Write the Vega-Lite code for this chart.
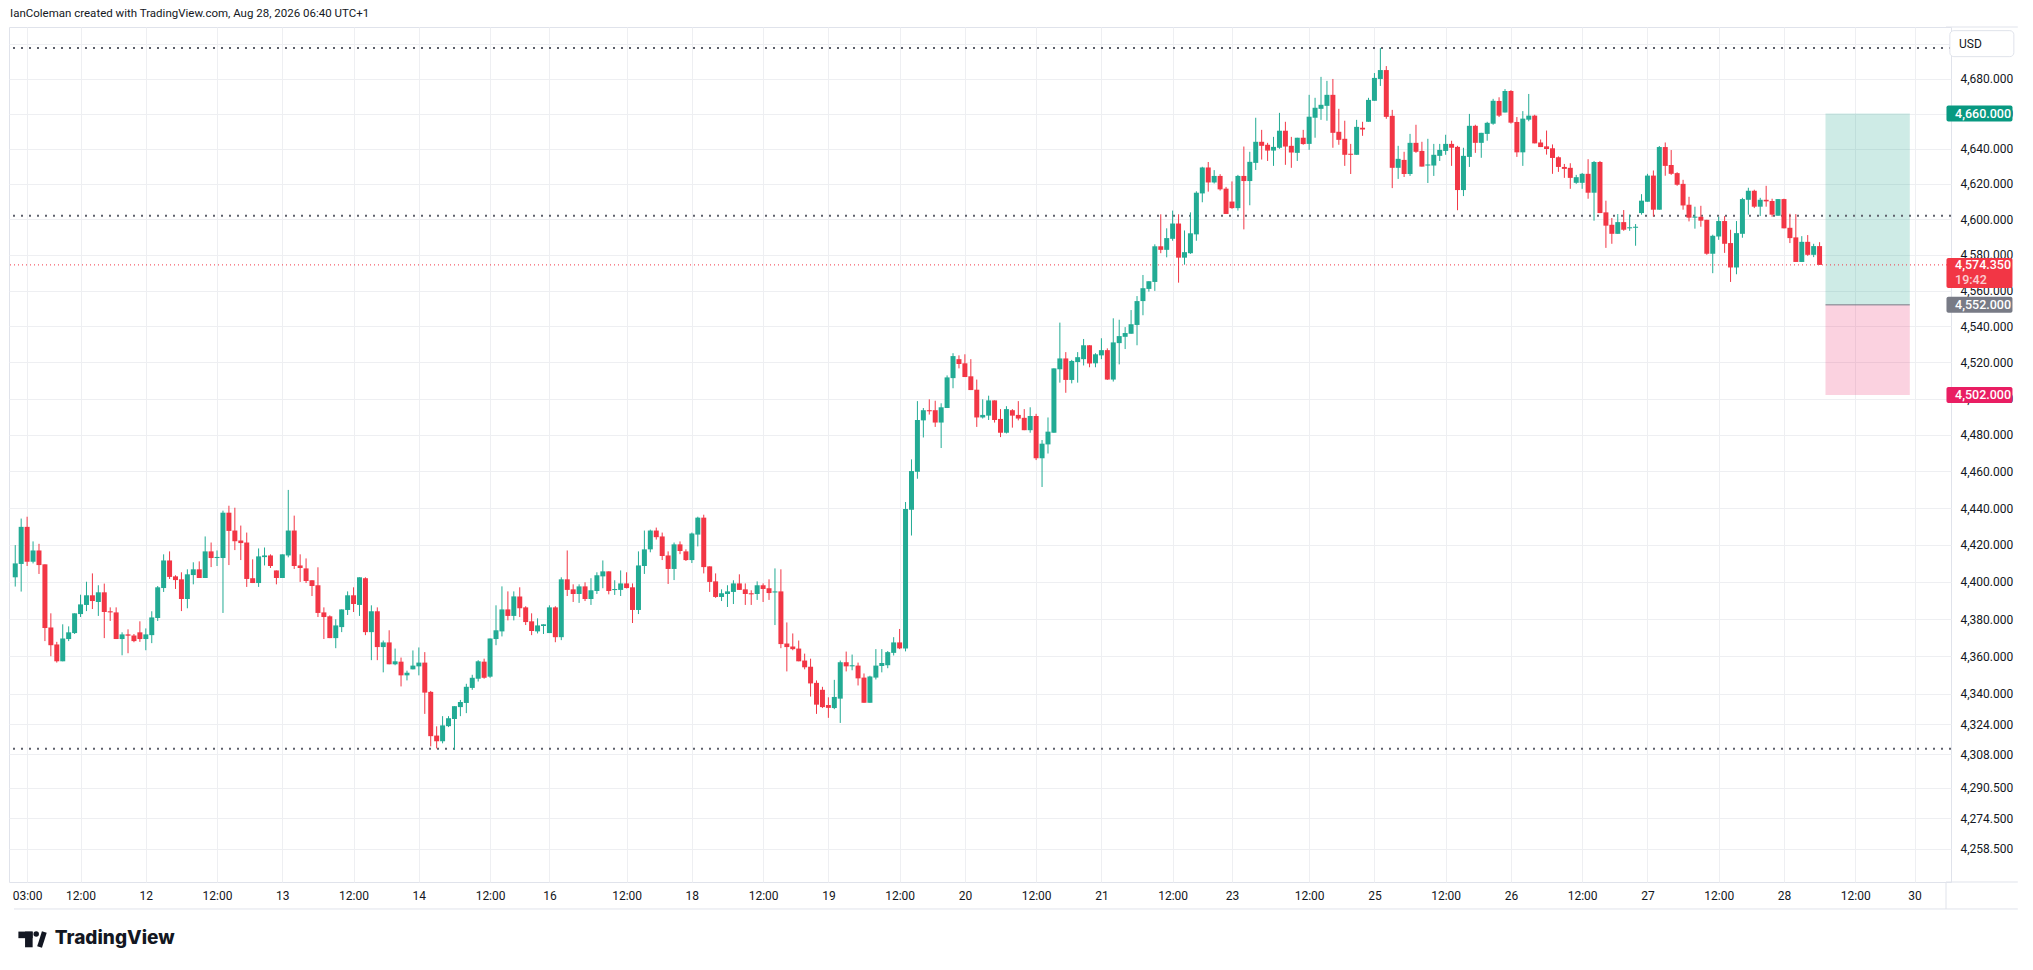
{
  "$schema": "https://vega.github.io/schema/vega-lite/v6.json",
  "width": 1942,
  "height": 855,
  "autosize": {"type": "none"},
  "padding": {"left": 9, "top": 27, "right": 82, "bottom": 88},
  "background": "white",
  "title": {
    "text": "IanColeman created with TradingView.com, Aug 28, 2026 06:40 UTC+1",
    "anchor": "start",
    "frame": "group",
    "baseline": "middle",
    "offset": 13,
    "dx": 1,
    "dy": 12,
    "font": "Roboto",
    "fontSize": 11.5,
    "fontWeight": "normal",
    "color": "#131722"
  },
  "config": {
    "view": {"stroke": "#e0e3eb", "strokeWidth": 1},
    "font": "Roboto",
    "axis": {
      "domain": false,
      "ticks": false,
      "tickSize": 0,
      "gridColor": "#eeeff2",
      "gridWidth": 1,
      "labelFont": "Roboto",
      "labelFontSize": 12,
      "labelColor": "#131722",
      "labelOverlap": false,
      "labelBound": false,
      "labelFlush": false
    }
  },
  "datasets": {
    "box": [
      {"kind": "target", "from": 283, "to": 297.2, "lo": 4552, "hi": 4660},
      {"kind": "stop", "from": 283, "to": 297.2, "lo": 4502, "hi": 4552}
    ],
    "levels": [{"p": 4697.6}, {"p": 4602}, {"p": 4311}],
    "badges": [
      {"kind": "target", "p": 4660},
      {"kind": "stop", "p": 4502},
      {"kind": "entry", "p": 4552},
      {"kind": "last", "p": 4574.35, "timer": "19:42"}
    ],
    "candles": [
      {"k":-22,"o":4402.5,"h":4419.9,"l":4397.5,"c":4410.0},
      {"k":-21,"o":4409.7,"h":4434.3,"l":4394.8,"c":4429.8},
      {"k":-20,"o":4429.8,"h":4435.3,"l":4408.6,"c":4410.9},
      {"k":-19,"o":4410.9,"h":4421.9,"l":4410.0,"c":4417.0},
      {"k":-18,"o":4417.0,"h":4420.6,"l":4404.3,"c":4409.1},
      {"k":-17,"o":4409.5,"h":4409.5,"l":4368.2,"c":4375.2},
      {"k":-16,"o":4375.5,"h":4383.1,"l":4360.1,"c":4366.0},
      {"k":-15,"o":4366.4,"h":4367.8,"l":4356.7,"c":4357.4},
      {"k":-14,"o":4357.4,"h":4377.2,"l":4357.4,"c":4369.6},
      {"k":-13,"o":4369.3,"h":4376.1,"l":4368.2,"c":4372.9},
      {"k":-12,"o":4372.5,"h":4383.1,"l":4372.0,"c":4383.1},
      {"k":-11,"o":4382.7,"h":4393.1,"l":4381.1,"c":4387.9},
      {"k":-10,"o":4387.6,"h":4400.1,"l":4384.3,"c":4392.8},
      {"k":-9,"o":4392.8,"h":4404.6,"l":4385.4,"c":4389.7},
      {"k":-8,"o":4389.2,"h":4398.2,"l":4381.7,"c":4394.4},
      {"k":-7,"o":4394.4,"h":4399.1,"l":4369.8,"c":4383.8},
      {"k":-6,"o":4384.2,"h":4386.3,"l":4379.0,"c":4383.6},
      {"k":-5,"o":4383.6,"h":4386.3,"l":4369.3,"c":4369.3},
      {"k":-4,"o":4369.3,"h":4372.9,"l":4360.6,"c":4371.8},
      {"k":-3,"o":4371.8,"h":4374.5,"l":4361.7,"c":4371.1},
      {"k":-2,"o":4371.2,"h":4372.0,"l":4367.6,"c":4368.2},
      {"k":-1,"o":4372.9,"h":4378.8,"l":4367.8,"c":4369.3},
      {"k":0,"o":4369.3,"h":4375.0,"l":4363.3,"c":4371.8},
      {"k":1,"o":4371.4,"h":4384.2,"l":4367.1,"c":4380.9},
      {"k":2,"o":4380.6,"h":4397.8,"l":4379.0,"c":4397.1},
      {"k":3,"o":4396.7,"h":4414.9,"l":4394.6,"c":4411.6},
      {"k":4,"o":4411.6,"h":4416.5,"l":4401.6,"c":4402.7},
      {"k":5,"o":4403.0,"h":4403.6,"l":4396.2,"c":4401.0},
      {"k":6,"o":4401.4,"h":4405.2,"l":4384.3,"c":4390.8},
      {"k":7,"o":4390.8,"h":4406.8,"l":4385.8,"c":4404.1},
      {"k":8,"o":4403.7,"h":4410.6,"l":4398.7,"c":4406.8},
      {"k":9,"o":4406.8,"h":4411.1,"l":4402.1,"c":4402.1},
      {"k":10,"o":4402.1,"h":4424.6,"l":4402.1,"c":4416.5},
      {"k":11,"o":4416.5,"h":4421.3,"l":4408.0,"c":4412.9},
      {"k":12,"o":4412.9,"h":4417.0,"l":4408.6,"c":4413.5},
      {"k":13,"o":4412.9,"h":4438.6,"l":4383.3,"c":4437.5},
      {"k":14,"o":4437.5,"h":4441.3,"l":4409.1,"c":4427.6},
      {"k":15,"o":4427.8,"h":4440.2,"l":4417.2,"c":4422.0},
      {"k":16,"o":4422.4,"h":4430.5,"l":4411.8,"c":4421.0},
      {"k":17,"o":4421.3,"h":4426.7,"l":4397.3,"c":4401.6},
      {"k":18,"o":4402.0,"h":4412.2,"l":4399.4,"c":4399.4},
      {"k":19,"o":4399.4,"h":4418.1,"l":4397.3,"c":4413.8},
      {"k":20,"o":4413.4,"h":4418.6,"l":4408.9,"c":4414.3},
      {"k":21,"o":4414.3,"h":4414.9,"l":4407.5,"c":4408.6},
      {"k":22,"o":4406.2,"h":4406.2,"l":4398.7,"c":4402.1},
      {"k":23,"o":4402.1,"h":4414.9,"l":4402.1,"c":4414.9},
      {"k":24,"o":4414.3,"h":4449.9,"l":4413.3,"c":4427.8},
      {"k":25,"o":4427.8,"h":4435.9,"l":4407.0,"c":4408.6},
      {"k":26,"o":4408.9,"h":4414.9,"l":4400.0,"c":4407.5},
      {"k":27,"o":4407.3,"h":4412.7,"l":4399.4,"c":4400.5},
      {"k":28,"o":4400.9,"h":4400.9,"l":4392.4,"c":4397.8},
      {"k":29,"o":4398.2,"h":4407.9,"l":4381.1,"c":4383.3},
      {"k":30,"o":4383.6,"h":4386.3,"l":4369.3,"c":4381.1},
      {"k":31,"o":4381.5,"h":4382.0,"l":4369.8,"c":4369.8},
      {"k":32,"o":4369.8,"h":4379.9,"l":4364.4,"c":4376.6},
      {"k":33,"o":4375.7,"h":4385.2,"l":4373.0,"c":4385.2},
      {"k":34,"o":4384.9,"h":4394.9,"l":4382.2,"c":4392.8},
      {"k":35,"o":4392.8,"h":4397.1,"l":4383.8,"c":4388.1},
      {"k":36,"o":4387.6,"h":4402.5,"l":4381.7,"c":4402.5},
      {"k":37,"o":4402.0,"h":4402.5,"l":4371.4,"c":4373.0},
      {"k":38,"o":4373.0,"h":4387.4,"l":4358.0,"c":4384.2},
      {"k":39,"o":4384.2,"h":4386.3,"l":4358.0,"c":4365.0},
      {"k":40,"o":4365.0,"h":4368.5,"l":4351.5,"c":4367.5},
      {"k":41,"o":4367.5,"h":4374.0,"l":4355.8,"c":4355.8},
      {"k":42,"o":4355.8,"h":4364.2,"l":4355.3,"c":4357.4},
      {"k":43,"o":4357.2,"h":4359.4,"l":4344.0,"c":4349.9},
      {"k":44,"o":4349.9,"h":4352.4,"l":4347.2,"c":4351.3},
      {"k":45,"o":4353.1,"h":4363.2,"l":4353.1,"c":4355.1},
      {"k":46,"o":4354.7,"h":4364.8,"l":4349.9,"c":4356.7},
      {"k":47,"o":4356.7,"h":4362.3,"l":4329.4,"c":4340.7},
      {"k":48,"o":4341.1,"h":4341.6,"l":4312.2,"c":4317.6},
      {"k":49,"o":4317.9,"h":4322.8,"l":4311.1,"c":4314.9},
      {"k":50,"o":4314.9,"h":4328.2,"l":4313.8,"c":4323.3},
      {"k":51,"o":4322.9,"h":4328.2,"l":4322.4,"c":4327.1},
      {"k":52,"o":4326.7,"h":4333.5,"l":4310.4,"c":4333.5},
      {"k":53,"o":4333.0,"h":4336.8,"l":4328.2,"c":4335.7},
      {"k":54,"o":4335.2,"h":4345.4,"l":4329.8,"c":4343.8},
      {"k":55,"o":4343.2,"h":4350.2,"l":4342.2,"c":4348.6},
      {"k":56,"o":4348.1,"h":4358.0,"l":4346.6,"c":4357.4},
      {"k":57,"o":4357.2,"h":4358.8,"l":4348.1,"c":4348.6},
      {"k":58,"o":4349.2,"h":4369.6,"l":4348.6,"c":4369.6},
      {"k":59,"o":4369.3,"h":4387.4,"l":4366.0,"c":4374.0},
      {"k":60,"o":4373.4,"h":4397.6,"l":4370.7,"c":4385.2},
      {"k":61,"o":4385.2,"h":4394.9,"l":4379.3,"c":4381.7},
      {"k":62,"o":4381.7,"h":4394.9,"l":4379.3,"c":4392.2},
      {"k":63,"o":4392.2,"h":4397.1,"l":4381.1,"c":4385.8},
      {"k":64,"o":4386.3,"h":4386.9,"l":4376.8,"c":4378.4},
      {"k":65,"o":4378.8,"h":4383.1,"l":4371.4,"c":4373.6},
      {"k":66,"o":4373.4,"h":4380.4,"l":4372.3,"c":4376.6},
      {"k":67,"o":4376.3,"h":4377.2,"l":4372.0,"c":4377.2},
      {"k":68,"o":4372.5,"h":4387.4,"l":4372.5,"c":4386.3},
      {"k":69,"o":4386.3,"h":4386.9,"l":4367.6,"c":4370.3},
      {"k":70,"o":4370.3,"h":4402.5,"l":4368.7,"c":4401.4},
      {"k":71,"o":4401.4,"h":4417.0,"l":4392.4,"c":4395.7},
      {"k":72,"o":4396.0,"h":4398.7,"l":4389.2,"c":4393.5},
      {"k":73,"o":4393.5,"h":4398.7,"l":4388.7,"c":4397.6},
      {"k":74,"o":4397.6,"h":4399.8,"l":4389.7,"c":4390.8},
      {"k":75,"o":4390.8,"h":4402.0,"l":4387.6,"c":4395.5},
      {"k":76,"o":4395.1,"h":4405.2,"l":4393.5,"c":4403.6},
      {"k":77,"o":4403.0,"h":4411.6,"l":4396.6,"c":4405.7},
      {"k":78,"o":4405.7,"h":4405.7,"l":4393.3,"c":4395.1},
      {"k":79,"o":4395.6,"h":4400.9,"l":4393.0,"c":4396.2},
      {"k":80,"o":4395.7,"h":4406.2,"l":4392.4,"c":4399.2},
      {"k":81,"o":4399.2,"h":4405.2,"l":4396.5,"c":4396.7},
      {"k":82,"o":4397.1,"h":4399.2,"l":4377.9,"c":4384.9},
      {"k":83,"o":4384.9,"h":4416.5,"l":4382.7,"c":4408.9},
      {"k":84,"o":4408.6,"h":4427.8,"l":4404.3,"c":4417.6},
      {"k":85,"o":4417.6,"h":4428.3,"l":4416.0,"c":4427.8},
      {"k":86,"o":4427.8,"h":4429.4,"l":4422.9,"c":4424.2},
      {"k":87,"o":4424.6,"h":4426.7,"l":4411.8,"c":4414.0},
      {"k":88,"o":4414.3,"h":4416.5,"l":4398.9,"c":4407.0},
      {"k":89,"o":4407.0,"h":4421.3,"l":4401.0,"c":4420.3},
      {"k":90,"o":4420.3,"h":4421.9,"l":4415.0,"c":4416.7},
      {"k":91,"o":4416.5,"h":4417.6,"l":4411.3,"c":4411.8},
      {"k":92,"o":4411.8,"h":4426.7,"l":4410.2,"c":4426.2},
      {"k":93,"o":4425.6,"h":4435.3,"l":4419.2,"c":4434.8},
      {"k":94,"o":4434.8,"h":4436.4,"l":4404.6,"c":4408.0},
      {"k":95,"o":4408.4,"h":4408.4,"l":4394.6,"c":4400.0},
      {"k":96,"o":4400.3,"h":4404.6,"l":4391.4,"c":4391.9},
      {"k":97,"o":4391.9,"h":4396.0,"l":4389.7,"c":4393.9},
      {"k":98,"o":4393.5,"h":4398.2,"l":4386.5,"c":4394.9},
      {"k":99,"o":4394.6,"h":4400.9,"l":4388.1,"c":4399.2},
      {"k":100,"o":4399.2,"h":4404.1,"l":4395.7,"c":4395.7},
      {"k":101,"o":4396.0,"h":4399.2,"l":4387.6,"c":4393.5},
      {"k":102,"o":4393.9,"h":4395.5,"l":4387.6,"c":4393.3},
      {"k":103,"o":4393.5,"h":4400.3,"l":4390.3,"c":4398.2},
      {"k":104,"o":4398.2,"h":4399.2,"l":4389.2,"c":4396.2},
      {"k":105,"o":4396.6,"h":4401.4,"l":4390.3,"c":4394.0},
      {"k":106,"o":4394.3,"h":4407.3,"l":4376.8,"c":4394.9},
      {"k":107,"o":4394.9,"h":4406.8,"l":4364.4,"c":4366.6},
      {"k":108,"o":4366.9,"h":4378.2,"l":4352.0,"c":4365.0},
      {"k":109,"o":4365.3,"h":4372.3,"l":4363.3,"c":4363.9},
      {"k":110,"o":4364.2,"h":4368.5,"l":4357.4,"c":4357.4},
      {"k":111,"o":4357.8,"h":4361.5,"l":4353.1,"c":4354.2},
      {"k":112,"o":4354.5,"h":4358.8,"l":4338.6,"c":4345.6},
      {"k":113,"o":4345.9,"h":4347.2,"l":4329.4,"c":4334.3},
      {"k":114,"o":4342.2,"h":4343.8,"l":4332.5,"c":4333.0},
      {"k":115,"o":4334.1,"h":4338.2,"l":4327.3,"c":4332.6},
      {"k":116,"o":4332.5,"h":4347.5,"l":4331.9,"c":4338.4},
      {"k":117,"o":4337.5,"h":4357.8,"l":4324.6,"c":4356.9},
      {"k":118,"o":4356.9,"h":4362.6,"l":4352.0,"c":4354.7},
      {"k":119,"o":4354.7,"h":4361.0,"l":4352.6,"c":4355.3},
      {"k":120,"o":4355.1,"h":4356.7,"l":4344.5,"c":4348.3},
      {"k":121,"o":4348.7,"h":4350.9,"l":4335.3,"c":4335.3},
      {"k":122,"o":4335.3,"h":4349.7,"l":4335.3,"c":4349.3},
      {"k":123,"o":4348.7,"h":4363.9,"l":4347.7,"c":4355.1},
      {"k":124,"o":4354.9,"h":4363.9,"l":4351.5,"c":4356.5},
      {"k":125,"o":4355.3,"h":4362.9,"l":4353.7,"c":4362.3},
      {"k":126,"o":4361.9,"h":4370.3,"l":4360.5,"c":4367.5},
      {"k":127,"o":4367.5,"h":4374.7,"l":4363.9,"c":4364.3},
      {"k":128,"o":4364.3,"h":4443.3,"l":4362.7,"c":4439.5},
      {"k":129,"o":4439.1,"h":4466.6,"l":4425.1,"c":4460.2},
      {"k":130,"o":4459.8,"h":4498.6,"l":4456.0,"c":4488.2},
      {"k":131,"o":4488.0,"h":4494.8,"l":4478.6,"c":4493.6},
      {"k":132,"o":4493.6,"h":4499.6,"l":4491.2,"c":4493.0},
      {"k":133,"o":4493.6,"h":4498.8,"l":4484.4,"c":4486.8},
      {"k":134,"o":4486.8,"h":4497.4,"l":4472.8,"c":4495.2},
      {"k":135,"o":4494.8,"h":4512.8,"l":4494.8,"c":4511.7},
      {"k":136,"o":4511.3,"h":4525.1,"l":4505.7,"c":4523.5},
      {"k":137,"o":4521.8,"h":4523.9,"l":4516.7,"c":4519.1},
      {"k":138,"o":4519.5,"h":4524.5,"l":4511.9,"c":4511.9},
      {"k":139,"o":4512.3,"h":4521.8,"l":4504.7,"c":4504.7},
      {"k":140,"o":4504.9,"h":4510.5,"l":4484.4,"c":4489.6},
      {"k":141,"o":4489.6,"h":4499.6,"l":4489.0,"c":4491.0},
      {"k":142,"o":4490.6,"h":4501.6,"l":4488.2,"c":4499.0},
      {"k":143,"o":4499.0,"h":4499.0,"l":4486.8,"c":4488.2},
      {"k":144,"o":4488.8,"h":4494.2,"l":4478.8,"c":4481.2},
      {"k":145,"o":4481.2,"h":4495.8,"l":4480.8,"c":4494.2},
      {"k":146,"o":4493.6,"h":4494.2,"l":4484.0,"c":4490.6},
      {"k":147,"o":4491.0,"h":4498.6,"l":4488.0,"c":4489.0},
      {"k":148,"o":4489.4,"h":4494.2,"l":4482.6,"c":4482.6},
      {"k":149,"o":4482.6,"h":4495.2,"l":4481.2,"c":4490.4},
      {"k":150,"o":4490.4,"h":4491.6,"l":4466.2,"c":4467.2},
      {"k":151,"o":4467.2,"h":4477.2,"l":4451.5,"c":4475.2},
      {"k":152,"o":4474.8,"h":4489.6,"l":4469.8,"c":4481.8},
      {"k":153,"o":4481.2,"h":4516.7,"l":4481.2,"c":4516.7},
      {"k":154,"o":4516.2,"h":4542.1,"l":4508.8,"c":4522.2},
      {"k":155,"o":4522.2,"h":4525.7,"l":4503.2,"c":4510.3},
      {"k":156,"o":4510.3,"h":4521.4,"l":4508.4,"c":4520.8},
      {"k":157,"o":4520.2,"h":4525.7,"l":4508.8,"c":4522.9},
      {"k":158,"o":4521.8,"h":4533.0,"l":4518.3,"c":4529.5},
      {"k":159,"o":4529.5,"h":4529.5,"l":4517.3,"c":4519.4},
      {"k":160,"o":4519.5,"h":4525.1,"l":4517.3,"c":4524.5},
      {"k":161,"o":4523.9,"h":4533.4,"l":4521.8,"c":4526.8},
      {"k":162,"o":4526.8,"h":4527.8,"l":4510.3,"c":4510.5},
      {"k":163,"o":4510.5,"h":4544.5,"l":4509.4,"c":4531.1},
      {"k":164,"o":4530.7,"h":4543.7,"l":4518.9,"c":4534.6},
      {"k":165,"o":4534.2,"h":4539.6,"l":4527.4,"c":4536.3},
      {"k":166,"o":4535.9,"h":4549.1,"l":4535.9,"c":4541.2},
      {"k":167,"o":4540.8,"h":4556.9,"l":4529.5,"c":4554.1},
      {"k":168,"o":4554.1,"h":4568.7,"l":4546.2,"c":4561.3},
      {"k":169,"o":4560.9,"h":4565.2,"l":4559.4,"c":4565.2},
      {"k":170,"o":4564.8,"h":4585.9,"l":4559.8,"c":4584.8},
      {"k":171,"o":4584.8,"h":4602.8,"l":4580.9,"c":4582.8},
      {"k":172,"o":4582.8,"h":4594.9,"l":4578.6,"c":4589.4},
      {"k":173,"o":4589.0,"h":4604.9,"l":4587.9,"c":4597.6},
      {"k":174,"o":4597.6,"h":4602.8,"l":4564.4,"c":4578.4},
      {"k":175,"o":4578.4,"h":4593.7,"l":4574.5,"c":4581.5},
      {"k":176,"o":4580.9,"h":4603.9,"l":4580.5,"c":4592.1},
      {"k":177,"o":4591.5,"h":4615.8,"l":4587.9,"c":4615.0},
      {"k":178,"o":4614.6,"h":4629.7,"l":4609.6,"c":4629.3},
      {"k":179,"o":4629.3,"h":4632.4,"l":4615.6,"c":4620.8},
      {"k":180,"o":4620.8,"h":4627.8,"l":4620.2,"c":4624.5},
      {"k":181,"o":4624.5,"h":4625.5,"l":4616.2,"c":4616.9},
      {"k":182,"o":4617.3,"h":4618.3,"l":4603.0,"c":4603.0},
      {"k":183,"o":4610.0,"h":4621.4,"l":4605.9,"c":4606.3},
      {"k":184,"o":4606.3,"h":4625.1,"l":4604.9,"c":4624.5},
      {"k":185,"o":4624.5,"h":4641.2,"l":4594.3,"c":4621.6},
      {"k":186,"o":4621.6,"h":4638.2,"l":4607.9,"c":4632.5},
      {"k":187,"o":4631.9,"h":4657.6,"l":4627.9,"c":4643.9},
      {"k":188,"o":4643.9,"h":4650.7,"l":4633.8,"c":4641.6},
      {"k":189,"o":4642.2,"h":4643.3,"l":4633.0,"c":4638.9},
      {"k":190,"o":4638.9,"h":4646.7,"l":4630.2,"c":4641.0},
      {"k":191,"o":4640.5,"h":4660.4,"l":4639.9,"c":4650.2},
      {"k":192,"o":4650.2,"h":4655.3,"l":4630.8,"c":4641.2},
      {"k":193,"o":4641.6,"h":4646.7,"l":4629.1,"c":4637.8},
      {"k":194,"o":4637.6,"h":4646.2,"l":4633.0,"c":4646.2},
      {"k":195,"o":4646.2,"h":4650.7,"l":4642.2,"c":4642.6},
      {"k":196,"o":4642.7,"h":4670.7,"l":4639.3,"c":4658.2},
      {"k":197,"o":4657.6,"h":4669.0,"l":4646.2,"c":4663.3},
      {"k":198,"o":4662.7,"h":4681.0,"l":4656.4,"c":4665.0},
      {"k":199,"o":4664.4,"h":4678.7,"l":4655.9,"c":4670.7},
      {"k":200,"o":4670.7,"h":4679.8,"l":4640.5,"c":4649.0},
      {"k":201,"o":4649.6,"h":4662.7,"l":4642.2,"c":4645.0},
      {"k":202,"o":4645.6,"h":4655.9,"l":4630.2,"c":4636.5},
      {"k":203,"o":4637.1,"h":4642.7,"l":4625.6,"c":4636.5},
      {"k":204,"o":4636.5,"h":4656.4,"l":4636.5,"c":4652.4},
      {"k":205,"o":4651.9,"h":4655.3,"l":4647.3,"c":4650.9},
      {"k":206,"o":4655.3,"h":4669.0,"l":4655.3,"c":4667.8},
      {"k":207,"o":4667.3,"h":4683.2,"l":4667.3,"c":4680.4},
      {"k":208,"o":4679.8,"h":4697.5,"l":4675.8,"c":4684.9},
      {"k":209,"o":4684.9,"h":4687.2,"l":4657.0,"c":4658.1},
      {"k":210,"o":4658.7,"h":4662.1,"l":4617.6,"c":4629.1},
      {"k":211,"o":4629.1,"h":4641.6,"l":4622.8,"c":4634.2},
      {"k":212,"o":4633.6,"h":4638.2,"l":4623.9,"c":4625.6},
      {"k":213,"o":4625.6,"h":4648.4,"l":4624.5,"c":4643.3},
      {"k":214,"o":4643.3,"h":4653.6,"l":4637.6,"c":4638.2},
      {"k":215,"o":4638.7,"h":4643.9,"l":4629.8,"c":4629.8},
      {"k":216,"o":4630.4,"h":4645.6,"l":4620.5,"c":4631.0},
      {"k":217,"o":4630.4,"h":4642.7,"l":4624.5,"c":4636.5},
      {"k":218,"o":4635.9,"h":4642.7,"l":4633.0,"c":4639.3},
      {"k":219,"o":4638.7,"h":4647.9,"l":4636.5,"c":4642.7},
      {"k":220,"o":4642.7,"h":4644.5,"l":4630.2,"c":4640.5},
      {"k":221,"o":4641.0,"h":4641.6,"l":4605.1,"c":4616.5},
      {"k":222,"o":4616.5,"h":4640.5,"l":4613.1,"c":4635.9},
      {"k":223,"o":4635.3,"h":4659.8,"l":4629.6,"c":4653.0},
      {"k":224,"o":4653.0,"h":4653.6,"l":4637.6,"c":4643.3},
      {"k":225,"o":4643.3,"h":4649.0,"l":4634.8,"c":4649.0},
      {"k":226,"o":4648.4,"h":4655.3,"l":4644.5,"c":4654.7},
      {"k":227,"o":4654.2,"h":4668.4,"l":4653.6,"c":4667.3},
      {"k":228,"o":4667.2,"h":4669.3,"l":4658.0,"c":4658.8},
      {"k":229,"o":4660.6,"h":4674.0,"l":4660.6,"c":4672.9},
      {"k":230,"o":4672.9,"h":4673.4,"l":4654.3,"c":4654.8},
      {"k":231,"o":4655.2,"h":4658.0,"l":4635.3,"c":4637.9},
      {"k":232,"o":4637.9,"h":4661.4,"l":4630.2,"c":4657.1},
      {"k":233,"o":4656.5,"h":4671.2,"l":4655.6,"c":4658.8},
      {"k":234,"o":4658.8,"h":4659.3,"l":4643.0,"c":4643.0},
      {"k":235,"o":4643.5,"h":4645.2,"l":4640.9,"c":4640.9},
      {"k":236,"o":4641.3,"h":4650.3,"l":4636.6,"c":4639.8},
      {"k":237,"o":4640.2,"h":4642.4,"l":4625.7,"c":4634.7},
      {"k":238,"o":4635.1,"h":4635.6,"l":4626.8,"c":4629.6},
      {"k":239,"o":4629.6,"h":4631.3,"l":4623.4,"c":4628.5},
      {"k":240,"o":4629.1,"h":4631.7,"l":4617.2,"c":4623.4},
      {"k":241,"o":4620.6,"h":4625.1,"l":4620.0,"c":4623.8},
      {"k":242,"o":4620.6,"h":4626.2,"l":4617.2,"c":4625.7},
      {"k":243,"o":4625.7,"h":4634.0,"l":4611.6,"c":4615.0},
      {"k":244,"o":4615.0,"h":4633.0,"l":4599.2,"c":4632.4},
      {"k":245,"o":4632.4,"h":4633.0,"l":4603.5,"c":4603.5},
      {"k":246,"o":4603.9,"h":4610.5,"l":4583.9,"c":4596.4},
      {"k":247,"o":4596.9,"h":4600.7,"l":4586.2,"c":4591.8},
      {"k":248,"o":4591.8,"h":4602.9,"l":4591.8,"c":4598.4},
      {"k":249,"o":4598.4,"h":4605.2,"l":4593.5,"c":4594.1},
      {"k":250,"o":4594.9,"h":4602.6,"l":4593.5,"c":4595.5},
      {"k":251,"o":4595.2,"h":4597.3,"l":4585.1,"c":4595.8},
      {"k":252,"o":4603.5,"h":4614.2,"l":4602.6,"c":4610.5},
      {"k":253,"o":4609.9,"h":4625.7,"l":4609.9,"c":4624.7},
      {"k":254,"o":4624.7,"h":4627.6,"l":4601.6,"c":4605.4},
      {"k":255,"o":4605.4,"h":4641.5,"l":4605.4,"c":4640.9},
      {"k":256,"o":4640.9,"h":4643.5,"l":4624.6,"c":4630.2},
      {"k":257,"o":4630.7,"h":4639.2,"l":4625.1,"c":4625.7},
      {"k":258,"o":4626.1,"h":4626.6,"l":4618.9,"c":4619.5},
      {"k":259,"o":4620.0,"h":4622.3,"l":4605.4,"c":4607.8},
      {"k":260,"o":4608.2,"h":4612.7,"l":4598.8,"c":4600.9},
      {"k":261,"o":4600.9,"h":4607.1,"l":4594.7,"c":4601.5},
      {"k":262,"o":4601.4,"h":4607.6,"l":4595.8,"c":4599.2},
      {"k":263,"o":4599.7,"h":4599.7,"l":4580.0,"c":4580.6},
      {"k":264,"o":4580.6,"h":4591.3,"l":4569.7,"c":4590.7},
      {"k":265,"o":4590.3,"h":4601.4,"l":4588.4,"c":4599.0},
      {"k":266,"o":4599.0,"h":4601.8,"l":4581.1,"c":4586.2},
      {"k":267,"o":4586.6,"h":4594.1,"l":4564.8,"c":4572.9},
      {"k":268,"o":4572.9,"h":4599.0,"l":4569.1,"c":4592.2},
      {"k":269,"o":4591.8,"h":4612.1,"l":4589.6,"c":4611.4},
      {"k":270,"o":4611.0,"h":4617.8,"l":4602.6,"c":4616.1},
      {"k":271,"o":4616.1,"h":4616.7,"l":4606.3,"c":4607.1},
      {"k":272,"o":4607.1,"h":4612.1,"l":4601.8,"c":4611.0},
      {"k":273,"o":4611.0,"h":4618.9,"l":4607.1,"c":4610.1},
      {"k":274,"o":4610.3,"h":4611.6,"l":4601.4,"c":4602.6},
      {"k":275,"o":4602.0,"h":4611.4,"l":4602.0,"c":4611.4},
      {"k":276,"o":4611.4,"h":4611.6,"l":4594.9,"c":4594.9},
      {"k":277,"o":4595.2,"h":4603.1,"l":4586.6,"c":4589.4},
      {"k":278,"o":4589.8,"h":4602.9,"l":4576.0,"c":4576.0},
      {"k":279,"o":4576.0,"h":4590.5,"l":4576.0,"c":4587.3},
      {"k":280,"o":4587.3,"h":4591.1,"l":4579.4,"c":4580.0},
      {"k":281,"o":4580.0,"h":4586.2,"l":4578.7,"c":4584.9},
      {"k":282,"o":4584.9,"h":4587.1,"l":4574.35,"c":4574.35}
    ]
  },
  "layer": [
    {
      "data": {"name": "box"},
      "mark": {"type": "rect", "opacity": 0.2},
      "encoding": {
        "x": {
          "field": "from", "type": "quantitative", "title": null,
          "scale": {"type": "linear", "domain": [-22.21, 303.3], "nice": false, "zero": false},
          "axis": {
            "grid": true,
            "values": [-20, -11, 0, 12, 23, 35, 46, 58, 68, 81, 92, 104, 115, 127, 138, 150, 161, 173, 183, 196, 207, 219, 230, 242, 253, 265, 276, 288, 298],
            "labelExpr": "['03:00','12:00','12','12:00','13','12:00','14','12:00','16','12:00','18','12:00','19','12:00','20','12:00','21','12:00','23','12:00','25','12:00','26','12:00','27','12:00','28','12:00','30'][indexof([-20,-11,0,12,23,35,46,58,68,81,92,104,115,127,138,150,161,173,183,196,207,219,230,242,253,265,276,288,298], datum.value)]",
            "labelBaseline": "middle",
            "labelPadding": 13
          }
        },
        "x2": {"field": "to"},
        "y": {
          "field": "lo", "type": "quantitative", "title": null,
          "scale": {"type": "log", "domain": [4241.1, 4709.7], "nice": false},
          "axis": {
            "orient": "right",
            "grid": true,
            "values": [4258.5, 4274.5, 4290.5, 4308, 4324, 4340, 4360, 4380, 4400, 4420, 4440, 4460, 4480, 4500, 4520, 4540, 4560, 4580, 4600, 4620, 4640, 4660, 4680, 4700],
            "format": ",.3f",
            "labelAlign": "left",
            "labelBaseline": "middle",
            "labelPadding": 9
          }
        },
        "y2": {"field": "hi"},
        "color": {
          "field": "kind", "type": "nominal", "legend": null,
          "scale": {"domain": ["target", "stop", "entry", "last"], "range": ["#089981", "#e91e63", "#787b86", "#f23645"]}
        }
      }
    },
    {
      "data": {"name": "box"},
      "transform": [{"filter": "datum.kind == 'stop'"}],
      "mark": {"type": "rule", "color": "#787b86", "strokeWidth": 1},
      "encoding": {
        "x": {"field": "from", "type": "quantitative", "title": null},
        "x2": {"field": "to"},
        "y": {"field": "hi", "type": "quantitative", "title": null}
      }
    },
    {
      "data": {"name": "levels"},
      "mark": {"type": "rule", "color": "#5d606b", "strokeWidth": 2, "strokeDash": [2, 6]},
      "encoding": {
        "y": {"field": "p", "type": "quantitative", "title": null}
      }
    },
    {
      "data": {"name": "badges"},
      "transform": [{"filter": "datum.kind == 'last'"}],
      "mark": {"type": "rule", "color": "#f23645", "strokeWidth": 1, "strokeDash": [1, 3]},
      "encoding": {
        "y": {"field": "p", "type": "quantitative", "title": null}
      }
    },
    {
      "data": {"name": "candles"},
      "mark": {"type": "rule", "strokeWidth": 1, "clip": true},
      "encoding": {
        "x": {"field": "k", "type": "quantitative", "title": null},
        "y": {"field": "l", "type": "quantitative", "title": null},
        "y2": {"field": "h"},
        "color": {"condition": {"test": "datum.c >= datum.o", "value": "#22ab94"}, "value": "#f23645"}
      }
    },
    {
      "data": {"name": "candles"},
      "mark": {"type": "bar", "size": 5, "clip": true},
      "encoding": {
        "x": {"field": "k", "type": "quantitative", "title": null},
        "y": {"field": "o", "type": "quantitative", "title": null},
        "y2": {"field": "c"},
        "color": {"condition": {"test": "datum.c >= datum.o", "value": "#22ab94"}, "value": "#f23645"}
      }
    },
    {
      "data": {"values": [{}]},
      "mark": {"type": "rule", "color": "#e0e3eb", "strokeWidth": 1},
      "encoding": {
        "x": {"datum": -22.21},
        "x2": {"datum": 315.4},
        "y": {"datum": 4227.1}
      }
    },
    {
      "data": {"values": [{}]},
      "mark": {"type": "rule", "color": "#e0e3eb", "strokeWidth": 1},
      "encoding": {
        "x": {"datum": 303.3},
        "y": {"datum": 4241.1},
        "y2": {"datum": 4227.1}
      }
    },
    {
      "data": {"values": [{}]},
      "mark": {"type": "rule", "color": "#e0e3eb", "strokeWidth": 1},
      "encoding": {
        "x": {"datum": 303.3},
        "x2": {"datum": 315.4},
        "y": {"datum": 4709.7}
      }
    },
    {
      "data": {"values": [{}]},
      "mark": {"type": "rule", "color": "#e0e3eb", "strokeWidth": 1},
      "encoding": {
        "x": {"datum": 303.3},
        "x2": {"datum": 315.4},
        "y": {"datum": 4241.1}
      }
    },
    {
      "data": {"name": "badges"},
      "transform": [{"filter": "datum.kind != 'last'"}],
      "mark": {"type": "tick", "orient": "horizontal", "size": 66, "thickness": 16, "cornerRadius": 2, "opacity": 1},
      "encoding": {
        "x": {"datum": 308.94},
        "y": {"field": "p", "type": "quantitative", "title": null},
        "color": {
          "field": "kind", "type": "nominal", "legend": null,
          "scale": {"domain": ["target", "stop", "entry", "last"], "range": ["#089981", "#e91e63", "#787b86", "#f23645"]}
        }
      }
    },
    {
      "data": {"name": "badges"},
      "transform": [{"filter": "datum.kind == 'last'"}],
      "mark": {"type": "tick", "orient": "horizontal", "size": 66, "thickness": 30, "yOffset": 8, "cornerRadius": 2, "opacity": 1},
      "encoding": {
        "x": {"datum": 308.94},
        "y": {"field": "p", "type": "quantitative", "title": null},
        "color": {
          "field": "kind", "type": "nominal", "legend": null,
          "scale": {"domain": ["target", "stop", "entry", "last"], "range": ["#089981", "#e91e63", "#787b86", "#f23645"]}
        }
      }
    },
    {
      "data": {"name": "badges"},
      "mark": {"type": "text", "align": "left", "baseline": "middle", "font": "Roboto", "fontSize": 12.5, "fontWeight": 500, "color": "white"},
      "encoding": {
        "x": {"datum": 304.82},
        "y": {"field": "p", "type": "quantitative", "title": null},
        "text": {"field": "p", "type": "quantitative", "format": ",.3f"}
      }
    },
    {
      "data": {"name": "badges"},
      "transform": [{"filter": "datum.kind == 'last'"}],
      "mark": {"type": "text", "align": "left", "baseline": "middle", "font": "Roboto", "fontSize": 12.5, "fontWeight": 500, "dy": 15, "color": "white", "opacity": 0.75},
      "encoding": {
        "x": {"datum": 304.82},
        "y": {"field": "p", "type": "quantitative", "title": null},
        "text": {"field": "timer"}
      }
    },
    {
      "data": {"values": [{"label": "USD"}]},
      "mark": {"type": "tick", "orient": "horizontal", "size": 64, "thickness": 26, "cornerRadius": 4, "fill": "white", "stroke": "#e0e3eb", "strokeWidth": 1, "opacity": 1},
      "encoding": {
        "x": {"datum": 309.34},
        "y": {"datum": 4700.1}
      }
    },
    {
      "data": {"values": [{"label": "USD"}]},
      "mark": {"type": "text", "align": "left", "baseline": "middle", "font": "Roboto", "fontSize": 12, "color": "#131722"},
      "encoding": {
        "x": {"datum": 305.5},
        "y": {"datum": 4700.1},
        "text": {"field": "label"}
      }
    },
    {
      "data": {"values": [{}]},
      "mark": {"type": "rect", "color": "#131722"},
      "encoding": {
        "x": {"datum": -21.47},
        "x2": {"datum": -19.07},
        "y": {"datum": 4215.4},
        "y2": {"datum": 4212.0}
      }
    },
    {
      "data": {"values": [{}]},
      "mark": {"type": "rect", "color": "#131722"},
      "encoding": {
        "x": {"datum": -20.35},
        "x2": {"datum": -19.07},
        "y": {"datum": 4215.4},
        "y2": {"datum": 4207.3}
      }
    },
    {
      "data": {"values": [{}]},
      "mark": {"type": "point", "shape": "circle", "filled": true, "size": 30, "color": "#131722", "opacity": 1},
      "encoding": {
        "x": {"datum": -18.47},
        "y": {"datum": 4214.2}
      }
    },
    {
      "data": {"values": [{}]},
      "mark": {"type": "rule", "color": "#131722", "strokeWidth": 5},
      "encoding": {
        "x": {"datum": -17.1},
        "y": {"datum": 4215.2},
        "x2": {"datum": -17.9},
        "y2": {"datum": 4207.4}
      }
    },
    {
      "data": {"values": [{"label": "TradingView"}]},
      "mark": {"type": "text", "align": "left", "baseline": "middle", "font": "Inter", "fontSize": 19, "fontWeight": 800, "color": "#131722"},
      "encoding": {
        "x": {"datum": -15.34},
        "y": {"datum": 4212.1},
        "text": {"field": "label"}
      }
    }
  ]
}
